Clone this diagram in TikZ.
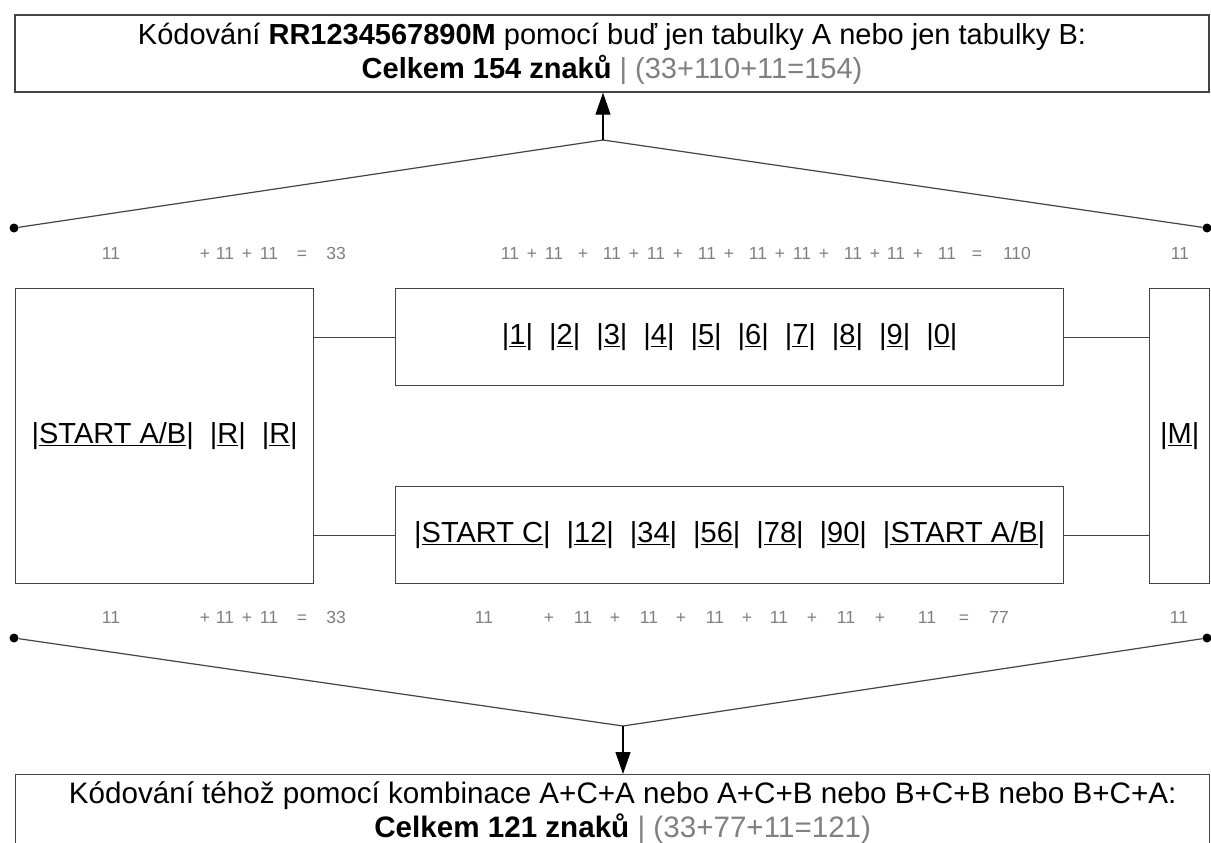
\documentclass[tikz,border=0pt]{standalone}
\usepackage{fontspec}
\setmainfont{Liberation Sans}
\usetikzlibrary{arrows.meta}
\definecolor{numgray}{HTML}{808080}
\definecolor{boxline}{HTML}{444444}
\newcommand\barred[1]{|\underline{#1}|}
\newcommand\gp{\hspace{0.55em}}
\begin{document}
\begin{tikzpicture}[x=1pt,y=-1pt,
  box/.style={draw=boxline, line width=1.4pt, fill=white, inner sep=0pt},
  conn/.style={draw=boxline, line width=1.2pt},
  big/.style={font=\fontsize{29}{31}\selectfont},
  bigt/.style={font=\fontsize{29}{34}\selectfont},
  bigb/.style={font=\fontsize{29.6}{34}\selectfont},
  num/.style={font=\fontsize{17.5}{20}\selectfont, text=numgray, inner sep=0pt, anchor=base},
  dotnode/.style={circle, fill=black, inner sep=0pt, minimum size=9pt},
  arr/.style={draw=black, line width=1.2pt, -{Triangle[length=22pt,width=15pt]}}
]
\clip (0,0) rectangle (1211,843);
\fill[white] (0,0) rectangle (1211,843);

% top box
\node[box, bigt, align=center, minimum width=1194pt, minimum height=77pt] (top) at (612,53.5)
  {K\'odov\'an\'i \textbf{RR1234567890M} pomoc\'i buď jen tabulky A nebo jen tabulky B:\\
   \textbf{Celkem 154 znaků} \textcolor{numgray}{| (33+110+11=154)}};

% bottom box
\node[box, anchor=north west, minimum width=1194pt, minimum height=100pt] (bot) at (15,774) {};
\node[bigb, align=center, anchor=north, inner sep=0pt] (bottxt) at ([xshift=10pt,yshift=-7pt]bot.north)
  {K\'odov\'an\'i téhož pomoc\'i kombinace A+C+A nebo A+C+B nebo B+C+B nebo B+C+A:\\
   \textbf{Celkem 121 znaků} \textcolor{numgray}{| (33+77+11=121)}};

% middle boxes
\node[box, big, anchor=north west, minimum width=298pt, minimum height=295pt] (L) at (15,288)
  {\barred{START A/B}\gp\barred{R}\gp\barred{R}};
\node[box, big, anchor=north west, minimum width=668pt, minimum height=97pt] (U) at (395,288)
  {\barred{1}\gp\barred{2}\gp\barred{3}\gp\barred{4}\gp\barred{5}\gp\barred{6}\gp\barred{7}\gp\barred{8}\gp\barred{9}\gp\barred{0}};
\node[box, big, anchor=north west, minimum width=668pt, minimum height=97pt] (D) at (395,486)
  {\barred{START C}\gp\barred{12}\gp\barred{34}\gp\barred{56}\gp\barred{78}\gp\barred{90}\gp\barred{START A/B}};
\node[box, big, anchor=north west, minimum width=60pt, minimum height=295pt] (M) at (1149,288)
  {\barred{M}};

% connectors between boxes
\draw[conn] (L.east |- U.west) -- (U.west);
\draw[conn] (L.east |- D.west) -- (D.west);
\draw[conn] (U.east) -- (U.east -| M.west);
\draw[conn] (D.east) -- (D.east -| M.west);

% fans
\node[dotnode] (TL) at (14,228) {};
\node[dotnode] (TR) at (1207,228) {};
\coordinate (apT) at (603,140);
\draw[conn] (TL) -- (apT) -- (TR);
\draw[arr] (apT) -- (apT |- top.south);

\node[dotnode] (BL) at (14,638) {};
\node[dotnode] (BR) at (1207,638) {};
\coordinate (apB) at (623,726);
\draw[conn] (BL) -- (apB) -- (BR);
\draw[arr] (apB) -- (apB |- bot.north);

% number rows
\foreach \x/\t [count=\i] in {111/11,205/+,225/11,247/+,269/11,302/=,336/33,
  510/11,532/+,554/11,583/+,612/11,634/+,656/11,678/+,707/11,729/+,758/11,780/+,802/11,
  824/+,853/11,875/+,896/11,918/+,947/11,977/=,1017/110,1180/11}
  \node[num] (na\i) at (\x,259) {\t};
\foreach \x/\t [count=\i] in {111/11,205/+,225/11,247/+,269/11,302/=,336/33,
  484/11,549/+,583/11,615/+,649/11,681/+,715/11,747/+,779/11,812/+,846/11,880/+,
  927/11,964/=,999/77,1179/11}
  \node[num] (nb\i) at (\x,623) {\t};
\end{tikzpicture}
\end{document}
